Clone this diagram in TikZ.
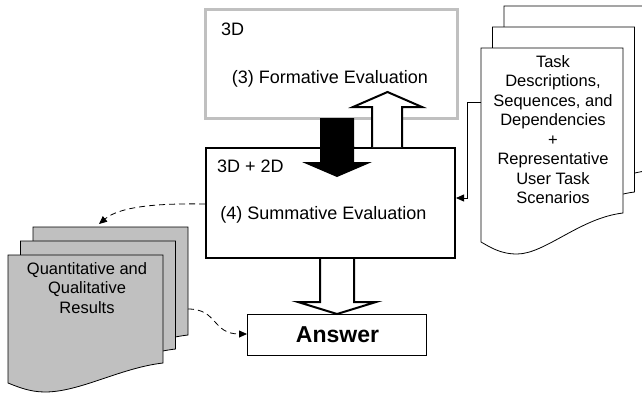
\documentclass[tikz,border=0pt]{standalone}
\usepackage{fontspec}
\setmainfont{Liberation Sans}
\usetikzlibrary{arrows.meta}
\definecolor{boxgray}{RGB}{192,192,192}
\definecolor{docgray}{RGB}{192,192,192}
\begin{document}
\begin{tikzpicture}[x=1pt,y=-1pt,
  lbl/.style={font=\fontsize{18}{21}\selectfont, inner sep=0pt},
  doctext/.style={font=\fontsize{16.5}{19.5}\selectfont, inner sep=0pt, align=center},
  evalbox/.style={draw, inner sep=0pt, fill=white},
  blockarrow/.style={draw=black, line width=2pt, fill=white, line join=miter},
  link/.style={line width=0.8pt, -{Triangle[length=8pt,width=7pt]}},
  dashlink/.style={link, dash pattern=on 6pt off 4pt},
  docline/.style={draw=black, line width=0.8pt, line join=miter}]
\useasboundingbox (0,0) rectangle (642,394);
\clip (0,0) rectangle (642,394);

% stacked task documents (back to front)
\foreach \dx/\dy in {23/-42, 11.5/-21, 0/0}{
  \draw[docline, fill=white, shift={(481+\dx,48+\dy)}]
    (0,0) -- (142,0) -- (142,165)
    .. controls (99,170) and (64,206) .. (36,206)
    .. controls (19,206) and (9,199) .. (0,194) -- cycle;
}
\coordinate (taskdoc) at (481,48);
\node[doctext, anchor=north] (tasktext) at (553,55)
  {Task\\Descriptions,\\Sequences, and\\Dependencies\\+\\Representative\\User Task\\Scenarios};

% stacked result documents (back to front)
\foreach \dx/\dy in {25/-28, 12.5/-14, 0/0}{
  \draw[docline, fill=docgray, shift={(8+\dx,255+\dy)}]
    (0,0) -- (155,0) -- (155,108)
    .. controls (112,113) and (72,137) .. (37,137)
    .. controls (22,137) and (10,132) .. (0,128) -- cycle;
}
\node[doctext, anchor=north] (restext) at (87,262)
  {Quantitative and\\Qualitative\\Results};

% evaluation boxes
\node[evalbox, draw=boxgray, line width=3pt, minimum width=252pt, minimum height=109pt]
  (form) at (331,63.5) {};
\node[lbl, anchor=base west] (formdim) at (221,35) {3D};
\node[lbl, anchor=base] (formname) at (330,83) {(3) Formative Evaluation};

% black arrow from formative to summative
\fill[black] (320,118) -- (354,118) -- (354,162) -- (372,162) -- (337,177)
  -- (302,162) -- (320,162) -- cycle;

\node[evalbox, line width=2.5pt, minimum width=249pt, minimum height=110pt]
  (summ) at (330.5,203) {};
\node[lbl, anchor=base west] (summdim) at (217,172) {3D + 2D};
\node[lbl, anchor=base] (summname) at (323.5,219) {(4) Summative Evaluation};

% black arrow drawn again on top of the summative box
\fill[black] (320,146) -- (354,146) -- (354,162) -- (372,162) -- (337,177)
  -- (302,162) -- (320,162) -- cycle;

% hollow arrow from summative back to formative
\draw[blockarrow] (372,147) -- (372,107) -- (353,107) -- (387.5,92)
  -- (422,107) -- (402,107) -- (402,147);

% answer box
\node[evalbox, line width=1pt, minimum width=179pt, minimum height=41pt]
  (answer) at (337,334.5) {};
\node[font=\fontsize{23}{26}\selectfont\bfseries, inner sep=0pt, anchor=base]
  (answertext) at (337.5,342) {Answer};

% hollow arrow from summative to answer
\draw[blockarrow] (320,259) -- (320,302) -- (298,302) -- (337,314)
  -- (376,302) -- (354,302) -- (354,259);

% connectors
\coordinate (taskout) at (481,102);
\coordinate (summin) at (456,198);
\draw[link] (taskout) -- (467,102) -- (467,198) -- (summin);

\coordinate (summout) at (205,204);
\coordinate (resin) at (99,224);
\draw[dashlink] (summout) .. controls (150,203) and (118,208) .. (resin);

\coordinate (resout) at (188,309);
\coordinate (answerin) at (247,334);
\draw[dashlink] (resout) .. controls (218,309) and (212,334) .. (answerin);
\end{tikzpicture}
\end{document}
